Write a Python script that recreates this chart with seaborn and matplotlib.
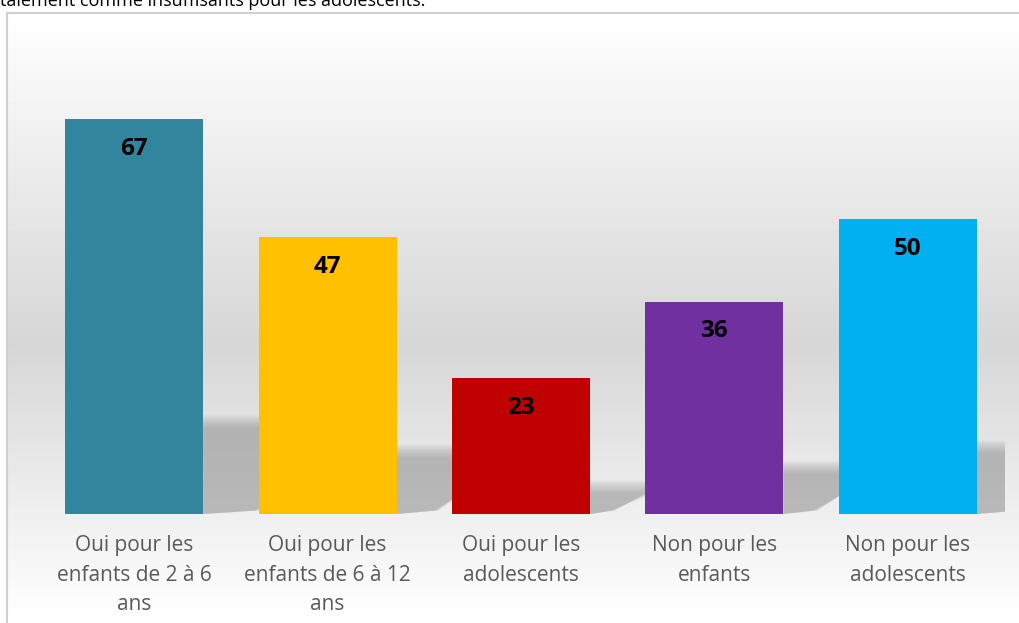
import numpy as np
import pandas as pd
import seaborn as sns
import matplotlib.pyplot as plt
from matplotlib.patches import Polygon

categories = ['Oui pour les\nenfants de 2 à 6\nans', 'Oui pour les\nenfants de 6 à 12\nans',
              'Oui pour les\nadolescents', 'Non pour les\nenfants', 'Non pour les\nadolescents']
values = [67, 47, 23, 36, 50]
colors = ['#31859C', '#FFC000', '#C00000', '#7030A0', '#00B0F0']
top_text = 'talement comme insuffisants pour les adolescents.'

sns.set_theme(style='white')
plt.rcParams['font.family'] = ['Open Sans', 'DejaVu Sans']

W, H = 1019, 623
fig = plt.figure(figsize=(W / 100, H / 100), dpi=100)
fig.patch.set_facecolor('white')

# chart area background: vertical gradient white -> gray -> white
bg = fig.add_axes([7 / W, 0, 1, (H - 13) / H])
grad = np.concatenate([np.linspace(1.0, 0.84, 330), np.linspace(0.84, 1.0, 280)])
bg.imshow(grad[:, None], aspect='auto', cmap='gray', vmin=0, vmax=1, extent=[0, 1, 0, 1])
bg.set_xticks([])
bg.set_yticks([])
for s in ['right', 'bottom']:
    bg.spines[s].set_visible(False)
for s in ['left', 'top']:
    bg.spines[s].set_color('#d0d0d0')
    bg.spines[s].set_linewidth(1.5)

fig.text(0, 1 - 6 / H, top_text, fontsize=13, color='black', va='baseline', ha='left')

ax = fig.add_axes([37.5 / W, (H - 514) / H, 967 / W, (514 - 42) / H])
ax.patch.set_alpha(0)

df = pd.DataFrame({'cat': categories, 'val': values})
sns.barplot(data=df, x='cat', y='val', hue='cat', palette=colors, saturation=1,
            width=0.713, legend=False, ax=ax, zorder=3, linewidth=0, edgecolor='none')

# soft shadows behind the bars
bw = 0.713
for i, v in enumerate(values):
    xr = i + bw / 2
    hs = v * 0.25
    dx = v * 0.012
    for k in range(10):
        g = k * 0.3
        poly = Polygon([(xr, 0), (xr, hs - g * 0.8), (xr + dx + 0.12 - g * 0.02, hs - g * 0.8),
                        (xr + dx * 0.3 + 0.05 - g * 0.01, 0.6)],
                       closed=True, facecolor='#8c8c8c', edgecolor='none', alpha=0.07, zorder=1)
        ax.add_patch(poly)

for i, v in enumerate(values):
    ax.annotate(str(v), xy=(i, v), xytext=(0, -21.5), textcoords='offset points',
                ha='center', va='center', fontsize=17.5, fontweight='bold', color='black', zorder=4)

ax.set_xlim(-0.5, 4.5)
ax.set_ylim(0, 80)
ax.set_xlabel('')
ax.set_ylabel('')
ax.set_yticks([])
ax.tick_params(axis='x', length=0, pad=15, labelsize=15, labelcolor='#595959')
for lbl in ax.get_xticklabels():
    lbl.set_linespacing(1.55)
sns.despine(ax=ax, left=True, bottom=True)

fig.savefig('out.png', dpi=100)
